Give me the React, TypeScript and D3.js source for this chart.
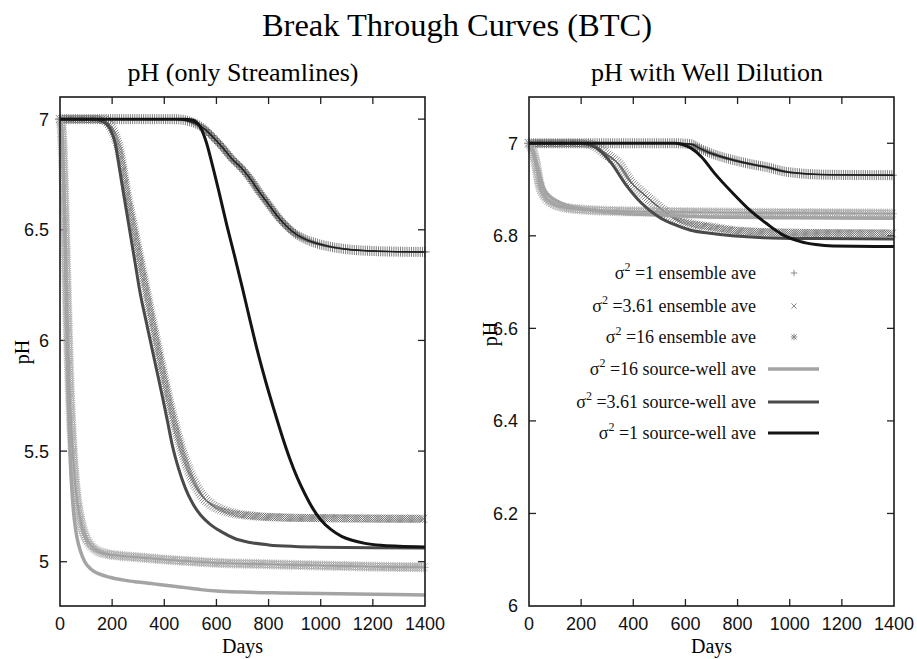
import React, { useEffect, useRef } from 'react';
import * as d3 from 'd3';

// ---------- tick labels ----------
const xTicks = [0, 200, 400, 600, 800, 1000, 1200, 1400];
const leftYTicks = [5, 5.5, 6, 6.5, 7];
const rightYTicks = [6, 6.2, 6.4, 6.6, 6.8, 7];

// ---------- left panel: pH (only Streamlines) ----------
const L_s1_ens_days = [0, 440, 480, 520, 555, 590, 625, 660, 695, 730, 765, 800, 835, 870, 905, 940, 980, 1030, 1100, 1200, 1300, 1400];
const L_s1_ens_pH = [7.0, 7.0, 6.995, 6.98, 6.955, 6.915, 6.87, 6.82, 6.78, 6.73, 6.67, 6.615, 6.56, 6.515, 6.48, 6.458, 6.44, 6.425, 6.412, 6.404, 6.401, 6.4];

const L_s361_ens_days = [0, 150, 170, 190, 210, 230, 256, 294, 332, 371, 395, 420, 445, 470, 495, 520, 550, 585, 620, 670, 740, 850, 1000, 1200, 1400];
const L_s361_ens_pH = [7.0, 7.0, 6.995, 6.975, 6.93, 6.85, 6.669, 6.443, 6.217, 5.99, 5.855, 5.72, 5.6, 5.495, 5.41, 5.345, 5.29, 5.255, 5.235, 5.218, 5.207, 5.2, 5.197, 5.195, 5.194];

const L_s16_ens_days = [0, 5, 10, 15, 20, 26, 32, 38, 45, 53, 62, 73, 86, 100, 120, 145, 180, 230, 300, 400, 500, 600, 750, 1000, 1200, 1400];
const L_s16_ens_pH = [7.0, 6.98, 6.88, 6.7, 6.48, 6.22, 5.97, 5.76, 5.58, 5.43, 5.31, 5.22, 5.15, 5.105, 5.07, 5.048, 5.035, 5.027, 5.02, 5.01, 5.002, 4.995, 4.99, 4.983, 4.978, 4.975];

const L_s16_well_days = [0, 4, 9, 14, 19, 24, 29, 34, 40, 47, 55, 65, 78, 95, 120, 150, 190, 240, 300, 360, 420, 480, 540, 600, 700, 850, 1000, 1200, 1400];
const L_s16_well_pH = [7.0, 6.98, 6.9, 6.72, 6.48, 6.2, 5.92, 5.66, 5.45, 5.3, 5.19, 5.11, 5.05, 5.0, 4.965, 4.945, 4.93, 4.918, 4.908, 4.9, 4.892, 4.883, 4.874, 4.868, 4.863, 4.859, 4.856, 4.853, 4.85];

const L_s361_well_days = [0, 130, 150, 170, 190, 211, 227, 243, 259, 275, 291, 307, 326, 345, 370, 393, 413, 432, 455, 480, 508, 540, 575, 620, 670, 730, 800, 900, 1000, 1200, 1400];
const L_s361_well_pH = [7.0, 7.0, 6.995, 6.985, 6.96, 6.895, 6.785, 6.669, 6.556, 6.443, 6.33, 6.217, 6.11, 6.006, 5.87, 5.745, 5.63, 5.52, 5.42, 5.335, 5.265, 5.21, 5.17, 5.135, 5.105, 5.087, 5.076, 5.069, 5.066, 5.063, 5.062];

const L_s1_well_days = [0, 480, 510, 535, 560, 585, 610, 640, 670, 700, 730, 760, 790, 820, 850, 880, 910, 940, 970, 1000, 1040, 1080, 1120, 1170, 1230, 1300, 1400];
const L_s1_well_pH = [7.0, 7.0, 6.995, 6.97, 6.9, 6.79, 6.67, 6.52, 6.38, 6.235, 6.085, 5.94, 5.81, 5.69, 5.575, 5.47, 5.38, 5.305, 5.24, 5.19, 5.145, 5.115, 5.097, 5.083, 5.074, 5.07, 5.067];

// ---------- right panel: pH with Well Dilution ----------
const R_s1_ens_days = [0, 560, 623, 655, 700, 782, 850, 915, 980, 1038, 1150, 1400];
const R_s1_ens_pH = [7.0, 7.0, 6.998, 6.989, 6.978, 6.964, 6.955, 6.948, 6.939, 6.935, 6.932, 6.931];

const R_s361_ens_days = [0, 200, 250, 300, 341, 393, 440, 495, 559, 620, 687, 780, 900, 1100, 1400];
const R_s361_ens_pH = [7.0, 7.0, 6.995, 6.975, 6.957, 6.914, 6.89, 6.863, 6.838, 6.826, 6.82, 6.812, 6.808, 6.806, 6.805];

const R_s16_ens_days = [0, 10, 25, 41, 60, 90, 130, 200, 300, 500, 800, 1100, 1400];
const R_s16_ens_pH = [7.0, 6.99, 6.96, 6.91, 6.885, 6.87, 6.862, 6.857, 6.854, 6.852, 6.85, 6.849, 6.848];

const R_s16_well_days = [0, 9, 35, 60, 111, 170, 239, 350, 495, 750, 1000, 1400];
const R_s16_well_pH = [7.0, 6.993, 6.942, 6.899, 6.874, 6.862, 6.856, 6.849, 6.845, 6.84, 6.839, 6.838];

const R_s361_well_days = [0, 190, 226, 270, 316, 367, 431, 495, 559, 620, 687, 780, 900, 1100, 1400];
const R_s361_well_pH = [7.0, 7.0, 6.998, 6.985, 6.957, 6.914, 6.871, 6.842, 6.824, 6.812, 6.806, 6.8, 6.796, 6.794, 6.793];

const R_s1_well_days = [0, 560, 585, 620, 661, 712, 782, 846, 910, 974, 1038, 1100, 1166, 1400];
const R_s1_well_pH = [7.0, 7.0, 6.998, 6.99, 6.971, 6.935, 6.892, 6.856, 6.827, 6.802, 6.788, 6.781, 6.778, 6.777];

// legend labels
const legendNames = ['=1 ensemble ave', '=3.61 ensemble ave', '=16 ensemble ave', '=16 source-well ave', '=3.61 source-well ave', '=1 source-well ave'];

const SERIF = '"Liberation Serif", "Times New Roman", serif';
const SANS = '"Liberation Sans", Arial, Helvetica, sans-serif';

type Style = { kind: 'line' | 'plus' | 'cross' | 'star'; color: string; width?: number; op?: number };
const styles: Style[] = [
  { kind: 'plus', color: '#4a4a4a', op: 0.7 },
  { kind: 'cross', color: '#5e5e5e', op: 0.75 },
  { kind: 'star', color: '#a0a0a0', op: 0.75 },
  { kind: 'line', color: '#a4a4a4', width: 3.5 },
  { kind: 'line', color: '#4a4a4a', width: 3 },
  { kind: 'line', color: '#141414', width: 3 },
];

function zip(d: number[], p: number[]) {
  return d.map((v, i) => [v, p[i]] as [number, number]);
}

function markerPath(kind: string, x: number, y: number, h: number) {
  const plus = `M${x - h},${y}h${2 * h}M${x},${y - h}v${2 * h}`;
  const k = h * 0.8;
  const cross = `M${x - k},${y - k}L${x + k},${y + k}M${x - k},${y + k}L${x + k},${y - k}`;
  if (kind === 'plus') return plus;
  if (kind === 'cross') return cross;
  return plus + cross;
}

export default function App() {
  const ref = useRef<SVGSVGElement | null>(null);

  useEffect(() => {
    const svg = d3.select(ref.current);
    svg.selectAll('*').remove();

    svg.append('text').attr('x', 457).attr('y', 36).attr('text-anchor', 'middle')
      .attr('font-family', SERIF).attr('font-size', 32.5).text('Break Through Curves (BTC)');

    const panels = [
      {
        x0: 60, x1: 425, yDom: [4.8, 7.1], yTicks: leftYTicks, title: 'pH (only Streamlines)', titleX: 243,
        ylabX: 29, ylabY: 352,
        series: [
          zip(L_s1_ens_days, L_s1_ens_pH), zip(L_s361_ens_days, L_s361_ens_pH), zip(L_s16_ens_days, L_s16_ens_pH),
          zip(L_s16_well_days, L_s16_well_pH), zip(L_s361_well_days, L_s361_well_pH), zip(L_s1_well_days, L_s1_well_pH),
        ],
        legend: false,
      },
      {
        x0: 529, x1: 894, yDom: [6, 7.1], yTicks: rightYTicks, title: 'pH with Well Dilution', titleX: 707,
        ylabX: 497, ylabY: 334,
        series: [
          zip(R_s1_ens_days, R_s1_ens_pH), zip(R_s361_ens_days, R_s361_ens_pH), zip(R_s16_ens_days, R_s16_ens_pH),
          zip(R_s16_well_days, R_s16_well_pH), zip(R_s361_well_days, R_s361_well_pH), zip(R_s1_well_days, R_s1_well_pH),
        ],
        legend: true,
      },
    ];

    const top = 97, bottom = 606;

    panels.forEach((P) => {
      const x = d3.scaleLinear().domain([0, 1400]).range([P.x0, P.x1]);
      const y = d3.scaleLinear().domain(P.yDom).range([bottom, top]);
      const g = svg.append('g');

      g.append('text').attr('x', P.titleX).attr('y', 81).attr('text-anchor', 'middle')
        .attr('font-family', SERIF).attr('font-size', 26).text(P.title);

      // ticks
      const tickG = g.append('g').attr('stroke', '#222').attr('stroke-width', 1.3);
      xTicks.forEach((t) => {
        if (t === 0 || t === 1400) return;
        tickG.append('line').attr('x1', x(t)).attr('x2', x(t)).attr('y1', bottom).attr('y2', bottom - 7);
        tickG.append('line').attr('x1', x(t)).attr('x2', x(t)).attr('y1', top).attr('y2', top + 7);
      });
      P.yTicks.forEach((t) => {
        if (Math.abs(y(t) - bottom) < 1) return;
        tickG.append('line').attr('x1', P.x0).attr('x2', P.x0 + 7).attr('y1', y(t)).attr('y2', y(t));
        tickG.append('line').attr('x1', P.x1).attr('x2', P.x1 - 7).attr('y1', y(t)).attr('y2', y(t));
      });
      xTicks.forEach((t) => {
        g.append('text').attr('x', x(t)).attr('y', 630).attr('text-anchor', 'middle')
          .attr('font-family', SANS).attr('font-size', 18).attr('fill', '#111').text(String(t));
      });
      P.yTicks.forEach((t) => {
        g.append('text').attr('x', P.x0 - 11).attr('y', y(t)).attr('dy', '0.36em').attr('text-anchor', 'end')
          .attr('font-family', SANS).attr('font-size', 18).attr('fill', '#111').text(String(t));
      });

      g.append('text').attr('x', (P.x0 + P.x1) / 2).attr('y', 653).attr('text-anchor', 'middle')
        .attr('font-family', SERIF).attr('font-size', 20).text('Days');
      g.append('text').attr('transform', `translate(${P.ylabX},${P.ylabY}) rotate(-90)`).attr('text-anchor', 'middle')
        .attr('font-family', SERIF).attr('font-size', 20).text('pH');

      const line = d3.line<[number, number]>().x((d) => x(d[0])).y((d) => y(d[1])).curve(d3.curveMonotoneX);

      // ensemble markers first
      P.series.forEach((data, i) => {
        const st = styles[i];
        if (st.kind === 'line') return;
        const dStr = line(data) || '';
        const hidden = g.append('path').attr('d', dStr).attr('fill', 'none').attr('stroke', 'none');
        const node = hidden.node() as SVGPathElement;
        const L = node.getTotalLength();
        const mg = g.append('g').attr('fill', 'none').attr('stroke', st.color).attr('stroke-width', 1)
          .attr('stroke-opacity', st.op || 0.6);
        for (let s = 0; s <= L; s += 2.2) {
          const pt = node.getPointAtLength(s);
          mg.append('path').attr('d', markerPath(st.kind, pt.x, pt.y, 5));
        }
        if (st.kind === 'plus') {
          g.append('path').attr('d', dStr).attr('fill', 'none').attr('stroke', '#1e1e1e').attr('stroke-width', 1.5);
        }
      });
      // source-well lines
      P.series.forEach((data, i) => {
        const st = styles[i];
        if (st.kind !== 'line') return;
        g.append('path').attr('d', line(data) || '').attr('fill', 'none').attr('stroke', st.color)
          .attr('stroke-width', st.width || 3).attr('stroke-linejoin', 'round');
      });

      // frame
      g.append('rect').attr('x', P.x0).attr('y', top).attr('width', P.x1 - P.x0).attr('height', bottom - top)
        .attr('fill', 'none').attr('stroke', '#1a1a1a').attr('stroke-width', 1.6);

      if (P.legend) {
        const rowsY = [273, 306, 337, 369, 402, 433];
        const lg = g.append('g');
        legendNames.forEach((name, i) => {
          const st = styles[i];
          const ty = rowsY[i];
          const t = lg.append('text').attr('x', 756).attr('y', ty + 6).attr('text-anchor', 'end')
            .attr('font-family', SERIF).attr('font-size', 18).attr('fill', '#111');
          t.append('tspan').text('σ');
          t.append('tspan').attr('font-size', 12).attr('dy', -8).text('2');
          t.append('tspan').attr('dy', 8).text(' ' + name);
          if (st.kind === 'line') {
            lg.append('line').attr('x1', 768).attr('x2', 819).attr('y1', ty).attr('y2', ty)
              .attr('stroke', st.color).attr('stroke-width', st.width || 3);
          } else {
            lg.append('path').attr('d', markerPath(st.kind, 794, ty, 3.2)).attr('fill', 'none')
              .attr('stroke', '#8a8a8a').attr('stroke-width', 1);
          }
        });
      }
    });
  }, []);

  return (
    <svg ref={ref} width={917} height={659} style={{ position: 'absolute', left: 0, top: 0, background: '#fff' }} />
  );
}
